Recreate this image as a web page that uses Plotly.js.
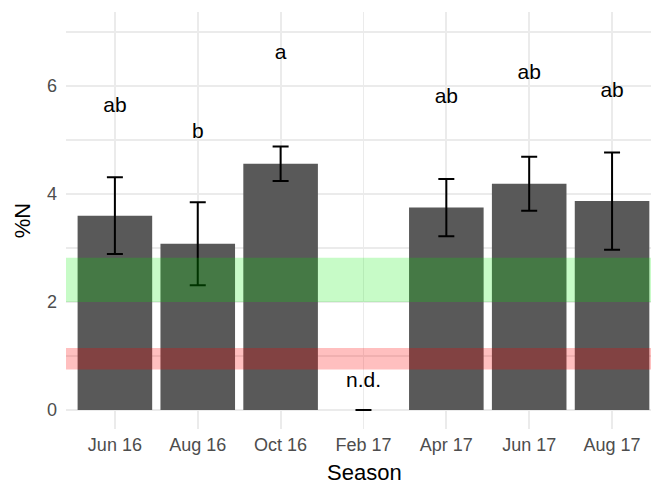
<!DOCTYPE html>
<html>
<head>
<meta charset="utf-8">
<script src="https://cdn.plot.ly/plotly-3.0.1.min.js"></script>
<style>
  html, body { margin: 0; padding: 0; background: #ffffff; }
  #chart { width: 651px; height: 484px; }
</style>
</head>
<body>
<div id="chart"></div>
<script>
// Sampling seasons and mean leaf nitrogen (%N) with its error
const seasons = ['Jun 16', 'Aug 16', 'Oct 16', 'Feb 17', 'Apr 17', 'Jun 17', 'Aug 17'];
const meanN = [3.60, 3.08, 4.56, 0, 3.75, 4.19, 3.87];
const errN = [0.71, 0.77, 0.32, 0, 0.53, 0.50, 0.90];

// Significance letters and the height at which each is printed
const letters = ['ab', 'b', 'a', 'n.d.', 'ab', 'ab', 'ab'];
const letterY = [5.62, 5.13, 6.59, 0.52, 5.78, 6.22, 5.89];

// Reference ranges for %N: sufficient (green) and deficient (red)
const bandNames = ['sufficient', 'deficient'];
const bandLow = [2.0, 0.75];
const bandHigh = [2.82, 1.15];
const bandFill = ['rgba(0,235,0,0.22)', 'rgba(255,0,0,0.25)'];

const yTicks = [0, 2, 4, 6];

const bars = {
  type: 'bar',
  x: seasons,
  y: meanN,
  marker: { color: '#595959', line: { width: 0 } },
  error_y: {
    type: 'data',
    array: errN,
    visible: true,
    color: '#000000',
    thickness: 2,
    width: 8
  },
  hoverinfo: 'x+y'
};

const labelTrace = {
  type: 'scatter',
  mode: 'text',
  x: seasons,
  y: letterY,
  text: letters,
  textposition: 'middle center',
  textfont: { family: 'Liberation Sans, Arial, sans-serif', size: 21, color: '#000000' },
  hoverinfo: 'skip'
};

const shapes = bandNames.map((name, i) => ({
  type: 'rect',
  xref: 'paper', x0: 0, x1: 1,
  yref: 'y', y0: bandLow[i], y1: bandHigh[i],
  fillcolor: bandFill[i],
  line: { width: 0 },
  layer: 'above',
  name: name
}));

const layout = {
  width: 651,
  height: 484,
  margin: { l: 66, r: 0, t: 12, b: 55 },
  paper_bgcolor: '#ffffff',
  plot_bgcolor: '#ffffff',
  showlegend: false,
  bargap: 0.1,
  font: { family: 'Liberation Sans, Arial, sans-serif', color: '#4d4d4d' },
  xaxis: {
    type: 'category',
    range: [-0.59, 6.47],
    showgrid: true,
    gridcolor: '#ebebeb',
    gridwidth: 1.8,
    zeroline: false,
    showline: false,
    ticks: '',
    tickfont: { size: 18, color: '#4d4d4d' },
    ticklabelstandoff: 3
  },
  yaxis: {
    range: [-0.35, 7.37],
    tickvals: yTicks,
    ticktext: yTicks.map(String),
    showgrid: true,
    gridcolor: '#ebebeb',
    gridwidth: 1.8,
    minor: { dtick: 1, tick0: 1, showgrid: true, gridcolor: '#ebebeb', gridwidth: 1.2 },
    zeroline: false,
    showline: false,
    ticks: '',
    tickfont: { size: 18, color: '#4d4d4d' },
    ticklabelstandoff: 8,
    title: { text: '%N', font: { size: 22, color: '#000000' }, standoff: 10 }
  },
  shapes: shapes,
  annotations: [{
    text: 'Season',
    xref: 'paper', yref: 'paper',
    x: 0.5103, y: 0,
    xanchor: 'center', yanchor: 'middle',
    yshift: -43,
    showarrow: false,
    font: { size: 22, color: '#000000' }
  }]
};

Plotly.newPlot('chart', [bars, labelTrace], layout, { displayModeBar: false, staticPlot: true });
</script>
</body>
</html>
